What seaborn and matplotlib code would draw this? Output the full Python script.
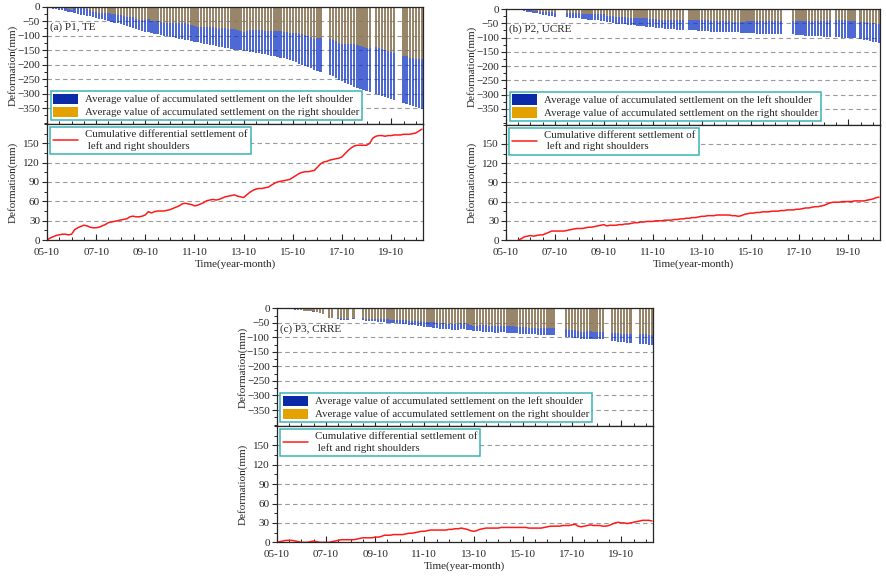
import matplotlib
matplotlib.use("Agg")
import matplotlib.pyplot as plt
from matplotlib.patches import Patch
from matplotlib.lines import Line2D
from matplotlib.ticker import MultipleLocator
import numpy as np
import pandas as pd
import seaborn as sns

nan = np.nan

# one record about every 45 days, months counted from 2005-10
months = np.arange(0, 184, 1.5)
tick_pos = [0, 24, 48, 72, 96, 120, 144, 168]
tick_labels = ['05-10', '07-10', '09-10', '11-10', '13-10', '15-10', '17-10', '19-10']

# (a) P1, TE
left_a = [-3, -5, -7, -8, -10, -12, -15, -17, -20, -22,
          -24, -27, -29, -31, -33, -36, -38, -41, -44, -47,
          -49, -52, -55, -57, -60, -64, -67, -71, -74, -78,
          -81, -83, -86, -88, -91, -93, -95, -98, -100, -102,
          -104, -106, -108, -110, -112, -114, -116, -118, -121, -123,
          -125, -128, -130, -132, -134, -137, -139, -140, -142, -144,
          -146, -148, -149, -151, -153, -154, -156, -158, -159, -160,
          -162, -165, -167, -169, -171, -173, -176, -178, -182, -185,
          -188, -192, -197, -201, -204, -208, -213, -218, -222, -226,
          nan, nan, -236, -241, -246, -252, -257, -262, -267, -272,
          -276, -280, -284, -287, -290, -294, nan, -300, -304, -307,
          -311, -315, -319, -323, nan, nan, -333, -336, -340, -343,
          -347, -351, -354]
right_a = [-3, -2, -2, -1, -2, -3, -6, -9, -11, -6,
           -5, -6, -6, -9, -13, -17, -19, -21, -22, -23,
           -22, -24, -26, -27, -29, -32, -34, -35, -37, -42,
           -45, -46, -47, -44, -49, -49, -50, -53, -55, -56,
           -57, -57, -57, -57, -56, -57, -60, -63, -68, -69,
           -69, -70, -69, -70, -71, -75, -76, -75, -75, -76,
           -77, -78, -81, -84, -87, -84, -82, -81, -80, -80,
           -82, -84, -85, -84, -83, -83, -85, -86, -89, -91,
           -91, -92, -94, -96, -98, -102, -106, -110, -109, -108,
           nan, nan, -112, -116, -120, -125, -128, -128, -128, -129,
           -130, -133, -137, -140, -143, -144, nan, -139, -142, -145,
           -150, -153, -157, -160, nan, nan, -169, -172, -176, -178,
           -181, -182, -182]
diff_a = [0, 3, 5, 7, 8, 9, 9, 8, 9, 16,
          19, 21, 23, 22, 20, 19, 19, 20, 22, 24,
          27, 28, 29, 30, 31, 32, 33, 36, 37, 36,
          36, 37, 39, 44, 42, 44, 45, 45, 45, 46,
          47, 49, 51, 53, 56, 57, 56, 55, 53, 54,
          56, 58, 61, 62, 63, 62, 63, 65, 67, 68,
          69, 70, 68, 67, 66, 70, 74, 77, 79, 80,
          80, 81, 82, 85, 88, 90, 91, 92, 93, 94,
          97, 100, 103, 105, 106, 106, 107, 108, 113, 118,
          121, 122, 124, 125, 126, 127, 129, 134, 139, 143,
          146, 147, 147, 147, 147, 150, 158, 161, 162, 162,
          161, 162, 162, 163, 163, 163, 164, 164, 164, 165,
          166, 169, 172]

# (b) P2, UCRE
left_b = [nan, nan, nan, nan, -3, -5, -7, -9, -11, -13,
          -15, -18, -20, -22, -23, -25, -27, nan, nan, nan,
          -29, -30, -31, -32, -33, -35, -36, -38, -39, -39,
          -40, -41, -43, -45, -47, -49, -51, -52, -53, -54,
          -55, -56, -57, -59, -60, -61, -62, -63, -64, -66,
          -67, -68, -69, -69, -70, -71, -72, -72, -73, nan,
          -74, -75, -75, -76, -76, -77, -78, -79, -79, -80,
          -80, -81, -81, -81, -82, -82, -82, -83, -84, -84,
          -85, -85, -86, -86, -86, -87, -87, -87, -88, -88,
          -88, nan, nan, nan, -89, -90, -91, -92, -93, -93,
          -94, -95, -95, -96, -97, -97, -98, nan, -99, -99,
          -100, -100, -101, -101, -102, nan, -105, -107, -109, -111,
          -114, -117, -120]
right_b = [nan, nan, nan, nan, -3, -3, -2, -3, -4, -7,
           -8, -10, -12, -12, -11, -11, -13, nan, nan, nan,
           -14, -14, -14, -14, -15, -17, -17, -18, -19, -18,
           -18, -18, -19, -23, -24, -26, -28, -28, -29, -29,
           -30, -30, -30, -32, -32, -33, -33, -34, -35, -36,
           -37, -38, -38, -38, -39, -39, -40, -39, -40, nan,
           -40, -40, -40, -40, -39, -40, -40, -41, -41, -41,
           -41, -42, -42, -42, -44, -44, -45, -45, -44, -43,
           -43, -43, -43, -43, -42, -43, -43, -42, -43, -43,
           -42, nan, nan, nan, -42, -42, -43, -43, -43, -43,
           -43, -43, -43, -43, -43, -41, -40, nan, -40, -40,
           -40, -40, -41, -41, -41, nan, -44, -46, -47, -48,
           -50, -51, -53]
diff_b = [nan, nan, nan, nan, 0, 2, 5, 6, 7, 6,
          7, 8, 8, 10, 12, 14, 14, 14, 14, 14,
          15, 16, 17, 18, 18, 18, 19, 20, 20, 21,
          22, 23, 24, 22, 23, 23, 23, 24, 24, 25,
          25, 26, 27, 27, 28, 28, 29, 29, 29, 30,
          30, 30, 31, 31, 31, 32, 32, 33, 33, 34,
          34, 35, 35, 36, 37, 37, 38, 38, 38, 39,
          39, 39, 39, 39, 38, 38, 37, 38, 40, 41,
          42, 42, 43, 43, 44, 44, 44, 45, 45, 45,
          46, 46, 47, 47, 47, 48, 48, 49, 50, 50,
          51, 52, 52, 53, 54, 56, 58, 59, 59, 59,
          60, 60, 60, 60, 61, 61, 61, 61, 62, 63,
          64, 66, 67]

# (c) P3, CRRE
left_c = [nan, -1, -2, -3, -3, -4, -5, -6, -7, -8,
          -10, -11, -13, -14, -16, -18, nan, -33, -34, nan,
          -38, -39, -40, -41, nan, -37, nan, nan, -42, -43,
          -44, -45, -45, -46, -47, -48, -49, -50, -51, -52,
          -53, -54, -55, -57, -58, -59, -60, -61, -63, -64,
          -66, -67, -68, -70, -71, -72, -73, -75, -75, -74,
          -73, -72, -74, -75, -77, -78, -79, -80, -81, -82,
          -83, -84, -84, -83, -83, -84, -84, -85, -86, -87,
          -88, -89, -89, -90, -90, -91, -91, -92, -92, -93,
          -93, nan, nan, nan, -99, -100, -101, -102, -103, -104,
          -105, -105, -105, -106, -106, -106, -105, nan, nan, -112,
          -114, -116, -117, -117, -118, -118, nan, nan, -122, -123,
          -124, -125, -126]
right_c = [nan, -1, -1, -1, -1, -1, -3, -5, -7, -8,
           -10, -10, -11, -13, -16, -18, nan, -33, -33, nan,
           -35, -35, -36, -37, nan, -33, nan, nan, -35, -36,
           -37, -38, -37, -38, -38, -37, -38, -39, -39, -40,
           -41, -42, -42, -43, -44, -44, -44, -44, -46, -46,
           -47, -48, -49, -51, -52, -53, -53, -55, -54, -53,
           -51, -51, -54, -57, -60, -60, -59, -59, -59, -60,
           -61, -62, -62, -60, -60, -61, -61, -62, -63, -64,
           -65, -66, -67, -68, -68, -69, -69, -69, -68, -68,
           -68, nan, nan, nan, -73, -74, -74, -74, -78, -80,
           -80, -79, -78, -80, -80, -80, -80, nan, nan, -84,
           -84, -85, -87, -87, -89, -88, nan, nan, -89, -89,
           -90, -91, -93]
diff_c = [0, 1, 2, 3, 3, 3, 2, 1, 0, 0,
          0, 1, 2, 1, 0, 0, 0, 0, 1, 2,
          3, 4, 4, 4, 4, 4, 5, 6, 7, 7,
          7, 7, 8, 8, 9, 11, 11, 11, 12, 12,
          12, 12, 13, 14, 14, 15, 16, 17, 17, 18,
          19, 19, 19, 19, 19, 19, 20, 20, 21, 21,
          22, 21, 20, 18, 17, 18, 20, 21, 22, 22,
          22, 22, 22, 23, 23, 23, 23, 23, 23, 23,
          23, 23, 22, 22, 22, 22, 22, 23, 24, 25,
          25, 25, 25, 26, 26, 26, 27, 28, 25, 24,
          25, 26, 27, 26, 26, 26, 25, 25, 26, 28,
          30, 31, 30, 30, 29, 30, 31, 32, 33, 34,
          34, 34, 33]

for name, arr in [('left_a', left_a), ('right_a', right_a), ('diff_a', diff_a),
                  ('left_b', left_b), ('right_b', right_b), ('diff_b', diff_b),
                  ('left_c', left_c), ('right_c', right_c), ('diff_c', diff_c)]:
    assert len(arr) == len(months), (name, len(arr))

sns.set_style('ticks')
plt.rcParams['font.family'] = 'serif'
plt.rcParams['font.serif'] = ['Liberation Serif', 'DejaVu Serif']
plt.rcParams['font.size'] = 8
plt.rcParams['axes.linewidth'] = 0.9

BLUE = '#0b2fc4'
ORANGE = '#e3a200'
TEAL = '#3cb4b4'
RED = '#ff1a1a'
GRID = '#9a9a9a'


def draw_panel(fig, left, width, top_box, bot_box, l_vals, r_vals, d_vals, tag, line_label):
    ax1 = fig.add_axes([left, top_box[0], width, top_box[1]])
    ax2 = fig.add_axes([left, bot_box[0], width, bot_box[1]])

    # settlement bars
    ax1.bar(months, np.array(l_vals, dtype=float), width=1.1, color=BLUE, alpha=0.72, linewidth=0)
    ax1.bar(months, np.array(r_vals, dtype=float), width=1.1, color=ORANGE, alpha=0.5, linewidth=0)
    ax1.set_xlim(0, 183.5)
    ax1.set_ylim(-405, 0)
    ax1.set_yticks(range(0, -351, -50))
    ax1.yaxis.set_minor_locator(MultipleLocator(25))
    ax1.set_xticks(tick_pos)
    ax1.set_xticklabels([])
    ax1.xaxis.set_minor_locator(MultipleLocator(6))
    ax1.tick_params(axis='x', which='major', direction='in', length=4, width=0.8)
    ax1.tick_params(axis='x', which='minor', direction='in', length=2, width=0.7)
    ax1.tick_params(axis='y', which='major', direction='out', length=3.5, width=0.8, pad=1.5)
    ax1.tick_params(axis='y', which='minor', direction='out', length=2, width=0.7)
    ax1.grid(axis='y', which='major', linestyle=(0, (4, 3)), color=GRID, linewidth=0.8)
    ax1.set_ylabel('Deformation(mm)')
    ax1.yaxis.set_label_coords(-0.078, 0.5)
    ax1.text(1.5, -72, tag, va='center', ha='left')
    handles = [Patch(facecolor='#0a2aa8', edgecolor='none'),
               Patch(facecolor=ORANGE, edgecolor='none')]
    leg = ax1.legend(handles, ['Average value of accumulated settlement on the left shoulder',
                               'Average value of accumulated settlement on the right shoulder'],
                     loc='lower left', fancybox=False, framealpha=1, edgecolor=TEAL,
                     borderpad=0.25, handlelength=2.3, handleheight=1.1, labelspacing=0.2,
                     borderaxespad=0.35, handletextpad=0.6, fontsize=7.8)
    leg.get_frame().set_linewidth(1.1)

    # differential settlement line
    df = pd.DataFrame({'month': months, 'diff': d_vals}).dropna()
    sns.lineplot(data=df, x='month', y='diff', ax=ax2, color=RED, linewidth=1.1)
    ax2.set_xlim(0, 183.5)
    ax2.set_ylim(0, 180)
    ax2.set_yticks(range(0, 151, 30))
    ax2.yaxis.set_minor_locator(MultipleLocator(15))
    ax2.set_xticks(tick_pos)
    ax2.set_xticklabels(tick_labels)
    ax2.xaxis.set_minor_locator(MultipleLocator(6))
    ax2.tick_params(axis='x', which='major', direction='in', length=4, width=0.8, pad=5.5)
    ax2.tick_params(axis='x', which='minor', direction='in', length=2, width=0.7)
    ax2.tick_params(axis='y', which='major', direction='out', length=3.5, width=0.8, pad=1.5)
    ax2.tick_params(axis='y', which='minor', direction='out', length=2, width=0.7)
    ax2.grid(axis='y', which='major', linestyle=(0, (4, 3)), color=GRID, linewidth=0.8)
    ax2.set_ylabel('Deformation(mm)')
    ax2.yaxis.set_label_coords(-0.078, 0.5)
    ax2.set_xlabel('Time(year-month)', labelpad=2)
    leg2 = ax2.legend([Line2D([0], [0], color=RED, linewidth=1.1)], [line_label],
                      loc='upper left', fancybox=False, framealpha=1, edgecolor=TEAL,
                      borderpad=0.3, handlelength=2.3, handletextpad=0.6, borderaxespad=0.3,
                      fontsize=7.8)
    leg2.get_frame().set_linewidth(1.1)


fig = plt.figure(figsize=(8.86, 5.81), dpi=100)

draw_panel(fig, 0.0530, 0.4244, (0.7866, 0.2019), (0.5869, 0.1997),
           left_a, right_a, diff_a, '(a) P1, TE',
           'Cumulative differential settlement of\n left and right shoulders')
draw_panel(fig, 0.5711, 0.4221, (0.7854, 0.1991), (0.5869, 0.1985),
           left_b, right_b, diff_b, '(b) P2, UCRE',
           'Cumulative different settlement of\n left and right shoulders')
draw_panel(fig, 0.3123, 0.4247, (0.2668, 0.2026), (0.0666, 0.2002),
           left_c, right_c, diff_c, '(c) P3, CRRE',
           'Cumulative differential settlement of\n left and right shoulders')

fig.savefig('out.png', dpi=100)
